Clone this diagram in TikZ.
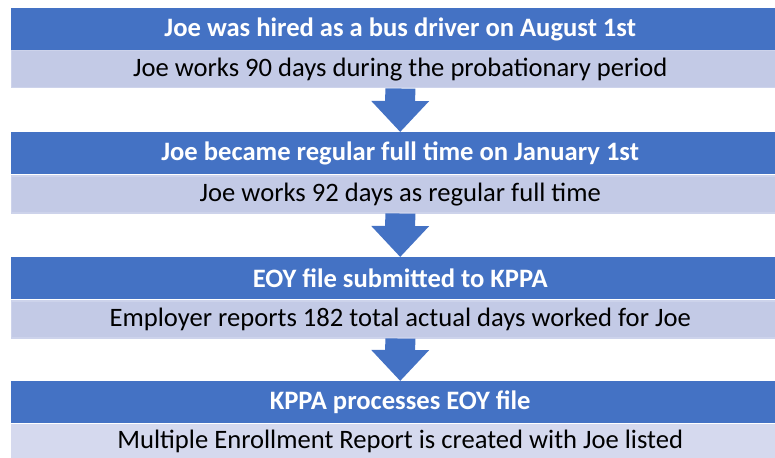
\documentclass[tikz,border=0pt]{standalone}
\usepackage{fontspec}
\setmainfont{Carlito}
\usetikzlibrary{arrows.meta}

\definecolor{headblue}{HTML}{4472C4}
\definecolor{subblue}{HTML}{C3CAE6}
\definecolor{subedge}{HTML}{CDD3EB}
\definecolor{lastblue}{HTML}{D5D9EE}

\tikzset{
  head/.style={anchor=north west, fill=headblue, inner sep=0pt,
    minimum width=778pt, minimum height=42pt,
    font=\fontsize{26.6}{30}\selectfont\bfseries, text=white},
  sub/.style={anchor=north west, fill=subblue, draw=subedge, line width=1.5pt,
    inner sep=0pt, minimum width=778pt, minimum height=37pt,
    font=\fontsize{26.6}{30}\selectfont},
  downarrow/.style={headblue, line width=30pt,
    -{Triangle[width=56pt,length=31pt]}, shorten >=0pt}
}

\begin{document}
\begin{tikzpicture}[x=1pt,y=-1pt]
\useasboundingbox (0,0) rectangle (775,457);
\node[head] (h1) at (11,8){Joe was hired as a bus driver on August 1st};
\node[sub] (s1) at (10.5,50){Joe works 90 days during the probationary period};
\node[head] (h2) at (11,132){Joe became regular full time on January 1st};
\node[sub] (s2) at (10.5,175){Joe works 92 days as regular full time};
\node[head] (h3) at (11,257){EOY file submitted to KPPA};
\node[sub] (s3) at (10.5,300){Employer reports 182 total actual days worked for Joe};
\node[head] (h4) at (11,381){KPPA processes EOY file};
\node[sub,fill=lastblue,draw=lastblue,minimum height=34pt] (s4) at (10.5,424){Multiple Enrollment Report is created with Joe listed};
\draw[downarrow] (s1.south) -- (h2.north);
\draw[downarrow] (s2.south) -- (h3.north);
\draw[downarrow] (s3.south) -- (h4.north);
\end{tikzpicture}
\end{document}
